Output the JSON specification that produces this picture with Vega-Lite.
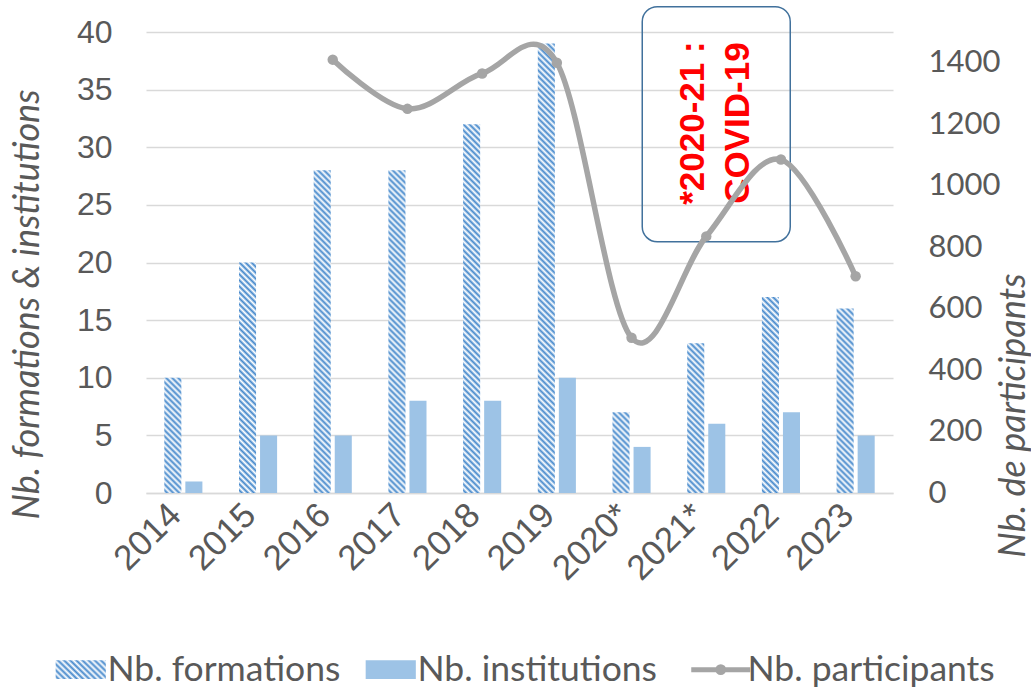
{
"$schema": "https://vega.github.io/schema/vega-lite/v6.json",
"width": 747, "height": 461,
"autosize": {"type": "none"},
"padding": {"left": 146, "top": 32, "right": 138, "bottom": 202},
"background": "white",
"params": [{"name": "hatchStops", "value": [
{"offset":0,"color":"#fff"},{"offset":0.00625,"color":"#4689cc"},{"offset":0.0125,"color":"#fff"},{"offset":0.01875,"color":"#4689cc"},{"offset":0.025,"color":"#fff"},{"offset":0.03125,"color":"#4689cc"},{"offset":0.0375,"color":"#fff"},{"offset":0.04375,"color":"#4689cc"},{"offset":0.05,"color":"#fff"},{"offset":0.05625,"color":"#4689cc"},{"offset":0.0625,"color":"#fff"},{"offset":0.06875,"color":"#4689cc"},{"offset":0.075,"color":"#fff"},{"offset":0.08125,"color":"#4689cc"},{"offset":0.0875,"color":"#fff"},{"offset":0.09375,"color":"#4689cc"},
{"offset":0.1,"color":"#fff"},{"offset":0.10625,"color":"#4689cc"},{"offset":0.1125,"color":"#fff"},{"offset":0.11875,"color":"#4689cc"},{"offset":0.125,"color":"#fff"},{"offset":0.13125,"color":"#4689cc"},{"offset":0.1375,"color":"#fff"},{"offset":0.14375,"color":"#4689cc"},{"offset":0.15,"color":"#fff"},{"offset":0.15625,"color":"#4689cc"},{"offset":0.1625,"color":"#fff"},{"offset":0.16875,"color":"#4689cc"},{"offset":0.175,"color":"#fff"},{"offset":0.18125,"color":"#4689cc"},{"offset":0.1875,"color":"#fff"},{"offset":0.19375,"color":"#4689cc"},
{"offset":0.2,"color":"#fff"},{"offset":0.20625,"color":"#4689cc"},{"offset":0.2125,"color":"#fff"},{"offset":0.21875,"color":"#4689cc"},{"offset":0.225,"color":"#fff"},{"offset":0.23125,"color":"#4689cc"},{"offset":0.2375,"color":"#fff"},{"offset":0.24375,"color":"#4689cc"},{"offset":0.25,"color":"#fff"},{"offset":0.25625,"color":"#4689cc"},{"offset":0.2625,"color":"#fff"},{"offset":0.26875,"color":"#4689cc"},{"offset":0.275,"color":"#fff"},{"offset":0.28125,"color":"#4689cc"},{"offset":0.2875,"color":"#fff"},{"offset":0.29375,"color":"#4689cc"},
{"offset":0.3,"color":"#fff"},{"offset":0.30625,"color":"#4689cc"},{"offset":0.3125,"color":"#fff"},{"offset":0.31875,"color":"#4689cc"},{"offset":0.325,"color":"#fff"},{"offset":0.33125,"color":"#4689cc"},{"offset":0.3375,"color":"#fff"},{"offset":0.34375,"color":"#4689cc"},{"offset":0.35,"color":"#fff"},{"offset":0.35625,"color":"#4689cc"},{"offset":0.3625,"color":"#fff"},{"offset":0.36875,"color":"#4689cc"},{"offset":0.375,"color":"#fff"},{"offset":0.38125,"color":"#4689cc"},{"offset":0.3875,"color":"#fff"},{"offset":0.39375,"color":"#4689cc"},
{"offset":0.4,"color":"#fff"},{"offset":0.40625,"color":"#4689cc"},{"offset":0.4125,"color":"#fff"},{"offset":0.41875,"color":"#4689cc"},{"offset":0.425,"color":"#fff"},{"offset":0.43125,"color":"#4689cc"},{"offset":0.4375,"color":"#fff"},{"offset":0.44375,"color":"#4689cc"},{"offset":0.45,"color":"#fff"},{"offset":0.45625,"color":"#4689cc"},{"offset":0.4625,"color":"#fff"},{"offset":0.46875,"color":"#4689cc"},{"offset":0.475,"color":"#fff"},{"offset":0.48125,"color":"#4689cc"},{"offset":0.4875,"color":"#fff"},{"offset":0.49375,"color":"#4689cc"},
{"offset":0.5,"color":"#fff"},{"offset":0.50625,"color":"#4689cc"},{"offset":0.5125,"color":"#fff"},{"offset":0.51875,"color":"#4689cc"},{"offset":0.525,"color":"#fff"},{"offset":0.53125,"color":"#4689cc"},{"offset":0.5375,"color":"#fff"},{"offset":0.54375,"color":"#4689cc"},{"offset":0.55,"color":"#fff"},{"offset":0.55625,"color":"#4689cc"},{"offset":0.5625,"color":"#fff"},{"offset":0.56875,"color":"#4689cc"},{"offset":0.575,"color":"#fff"},{"offset":0.58125,"color":"#4689cc"},{"offset":0.5875,"color":"#fff"},{"offset":0.59375,"color":"#4689cc"},
{"offset":0.6,"color":"#fff"},{"offset":0.60625,"color":"#4689cc"},{"offset":0.6125,"color":"#fff"},{"offset":0.61875,"color":"#4689cc"},{"offset":0.625,"color":"#fff"},{"offset":0.63125,"color":"#4689cc"},{"offset":0.6375,"color":"#fff"},{"offset":0.64375,"color":"#4689cc"},{"offset":0.65,"color":"#fff"},{"offset":0.65625,"color":"#4689cc"},{"offset":0.6625,"color":"#fff"},{"offset":0.66875,"color":"#4689cc"},{"offset":0.675,"color":"#fff"},{"offset":0.68125,"color":"#4689cc"},{"offset":0.6875,"color":"#fff"},{"offset":0.69375,"color":"#4689cc"},
{"offset":0.7,"color":"#fff"},{"offset":0.70625,"color":"#4689cc"},{"offset":0.7125,"color":"#fff"},{"offset":0.71875,"color":"#4689cc"},{"offset":0.725,"color":"#fff"},{"offset":0.73125,"color":"#4689cc"},{"offset":0.7375,"color":"#fff"},{"offset":0.74375,"color":"#4689cc"},{"offset":0.75,"color":"#fff"},{"offset":0.75625,"color":"#4689cc"},{"offset":0.7625,"color":"#fff"},{"offset":0.76875,"color":"#4689cc"},{"offset":0.775,"color":"#fff"},{"offset":0.78125,"color":"#4689cc"},{"offset":0.7875,"color":"#fff"},{"offset":0.79375,"color":"#4689cc"},
{"offset":0.8,"color":"#fff"},{"offset":0.80625,"color":"#4689cc"},{"offset":0.8125,"color":"#fff"},{"offset":0.81875,"color":"#4689cc"},{"offset":0.825,"color":"#fff"},{"offset":0.83125,"color":"#4689cc"},{"offset":0.8375,"color":"#fff"},{"offset":0.84375,"color":"#4689cc"},{"offset":0.85,"color":"#fff"},{"offset":0.85625,"color":"#4689cc"},{"offset":0.8625,"color":"#fff"},{"offset":0.86875,"color":"#4689cc"},{"offset":0.875,"color":"#fff"},{"offset":0.88125,"color":"#4689cc"},{"offset":0.8875,"color":"#fff"},{"offset":0.89375,"color":"#4689cc"},
{"offset":0.9,"color":"#fff"},{"offset":0.90625,"color":"#4689cc"},{"offset":0.9125,"color":"#fff"},{"offset":0.91875,"color":"#4689cc"},{"offset":0.925,"color":"#fff"},{"offset":0.93125,"color":"#4689cc"},{"offset":0.9375,"color":"#fff"},{"offset":0.94375,"color":"#4689cc"},{"offset":0.95,"color":"#fff"},{"offset":0.95625,"color":"#4689cc"},{"offset":0.9625,"color":"#fff"},{"offset":0.96875,"color":"#4689cc"},{"offset":0.975,"color":"#fff"},{"offset":0.98125,"color":"#4689cc"},{"offset":0.9875,"color":"#fff"},{"offset":0.99375,"color":"#4689cc"},
{"offset":1,"color":"#fff"}
]}],
"data": {"values": [
{"year":"2014","formations":10,"institutions":1,"participants":null},
{"year":"2015","formations":20,"institutions":5,"participants":null},
{"year":"2016","formations":28,"institutions":5,"participants":1410},
{"year":"2017","formations":28,"institutions":8,"participants":1250},
{"year":"2018","formations":32,"institutions":8,"participants":1365},
{"year":"2019","formations":39,"institutions":10,"participants":1400},
{"year":"2020*","formations":7,"institutions":4,"participants":505},
{"year":"2021*","formations":13,"institutions":6,"participants":835},
{"year":"2022","formations":17,"institutions":7,"participants":1085},
{"year":"2023","formations":16,"institutions":5,"participants":705}
]},
"encoding": {
"x": {"field": "year", "type": "nominal",
 "scale": {"domain": ["2014","2015","2016","2017","2018","2019","2020*","2021*","2022","2023"], "paddingInner": 0.49, "paddingOuter": 0.245},
 "axis": {"title": null, "labelAngle": -45, "labelAlign": "right", "labelBaseline": "middle", "labelFont": "Liberation Sans", "labelFontSize": 35, "labelColor": "#595959", "labelPadding": 16, "labelOffset": -8, "ticks": false, "domainColor": "#d9d9d9", "domainWidth": 1.5, "grid": false}}
},
"layer": [
{"layer": [
 {"transform": [{"fold": ["formations", "institutions"], "as": ["key", "value"]}],
  "mark": {"type": "bar", "fill": {"expr": "datum.key === 'formations' ? {gradient: 'linear', x1: 0, y1: 1, x2: 480*17/(289+pow(datum.value*11.525,2)), y2: 1-480*datum.value*11.525/(289+pow(datum.value*11.525,2)), stops: hatchStops} : '#9dc3e6'"}},
  "encoding": {
   "xOffset": {"field": "key", "type": "nominal", "scale": {"domain": ["formations", "institutions"], "paddingInner": 0.19, "paddingOuter": 0}},
   "y": {"field": "value", "type": "quantitative", "scale": {"domain": [0, 40]},
    "axis": {"title": "Nb. formations & institutions", "values": [0,5,10,15,20,25,30,35,40], "labelFont": "Liberation Sans", "labelFontSize": 32, "labelColor": "#595959", "labelPadding": 34, "ticks": false, "domain": false, "gridColor": "#d9d9d9", "gridWidth": 1.5, "titleFont": "Lato", "titleFontStyle": "italic", "titleFontWeight": "normal", "titleFontSize": 36, "titleColor": "#595959", "titleAngle": 270, "titleX": -119, "titleY": 272, "titleAlign": "center", "titleBaseline": "middle"}}
  }
 },
 {"data": {"values": [{}]},
  "mark": {"type": "bar", "width": 148, "cornerRadius": 15, "fill": "transparent", "stroke": "#41719c", "strokeWidth": 1.5, "xOffset": 10},
  "encoding": {"x": {"datum": "2021*"}, "y": {"datum": 42.2, "type": "quantitative", "scale": {"domain": [0, 40]}}, "y2": {"datum": 21.8}}
 },
 {"data": {"values": [{}]},
  "mark": {"type": "text", "text": ["*2020-21 :", "COVID-19"], "angle": 270, "font": "Liberation Sans", "fontSize": 35, "fontWeight": "bold", "fill": "#ff0000", "lineHeight": 45, "align": "center", "baseline": "middle", "xOffset": -13},
  "encoding": {"x": {"datum": "2021*"}, "y": {"datum": 32.1, "type": "quantitative", "scale": {"domain": [0, 40]}}}
 }
]},
{"layer": [
 {"mark": {"type": "line", "interpolate": "cardinal", "tension": 0, "strokeWidth": 5.5, "strokeCap": "round", "strokeJoin": "round"},
  "encoding": {
   "y": {"field": "participants", "type": "quantitative", "scale": {"domain": [0, 1500]},
    "axis": {"orient": "right", "title": "Nb. de participants", "format": "d", "values": [0,200,400,600,800,1000,1200,1400], "grid": false, "ticks": false, "domain": false, "labelFont": "Lato", "labelFontSize": 31, "labelColor": "#595959", "labelAlign": "left", "labelPadding": 35, "titleFont": "Lato", "titleFontStyle": "italic", "titleFontWeight": "normal", "titleFontSize": 36, "titleColor": "#595959", "titleAngle": 270, "titleX": 120, "titleY": 383, "titleAlign": "center", "titleBaseline": "middle"}},
   "color": {"datum": "Nb. participants", "type": "nominal",
    "scale": {"domain": ["Nb. formations", "Nb. institutions", "Nb. participants"], "range": ["#5b9bd5", "#9dc3e6", "#a5a5a5"]},
    "legend": {"orient": "none", "legendX": -83, "legendY": 619.5, "direction": "horizontal", "title": null, "symbolSize": 3481, "labelFont": "Lato", "labelFontSize": 35.5, "labelColor": "#595959", "labelOffset": 9, "labelLimit": 0, "columnPadding": 24, "padding": 0,
     "encode": {"symbols": {"update": {
      "shape": {"signal": "datum.value === 'Nb. participants' ? 'M-1,0H1M0.1,0A0.1,0.1,0,1,1,-0.1,0A0.1,0.1,0,1,1,0.1,0' : 'M-0.85,-0.322H0.85V0.322H-0.85Z'"},
      "fill": {"signal": "datum.value === 'Nb. formations' ? {gradient: 'linear', x1: 0, y1: 1, x2: 8.516, y2: -2.302, stops: hatchStops} : (datum.value === 'Nb. institutions' ? '#9dc3e6' : '#a5a5a5')"},
      "stroke": {"signal": "datum.value === 'Nb. participants' ? '#a5a5a5' : 'transparent'"},
      "strokeWidth": {"signal": "datum.value === 'Nb. participants' ? 5 : 0"},
      "opacity": {"value": 1},
      "fillOpacity": {"value": 1}
     }}}}}
  }
 },
 {"mark": {"type": "circle", "size": 110, "opacity": 1, "fill": "#a5a5a5"},
  "encoding": {"y": {"field": "participants", "type": "quantitative", "scale": {"domain": [0, 1500]}}}
 }
]}
],
"resolve": {"scale": {"y": "independent"}},
"config": {"view": {"stroke": null}, "font": "Liberation Sans"}
}
